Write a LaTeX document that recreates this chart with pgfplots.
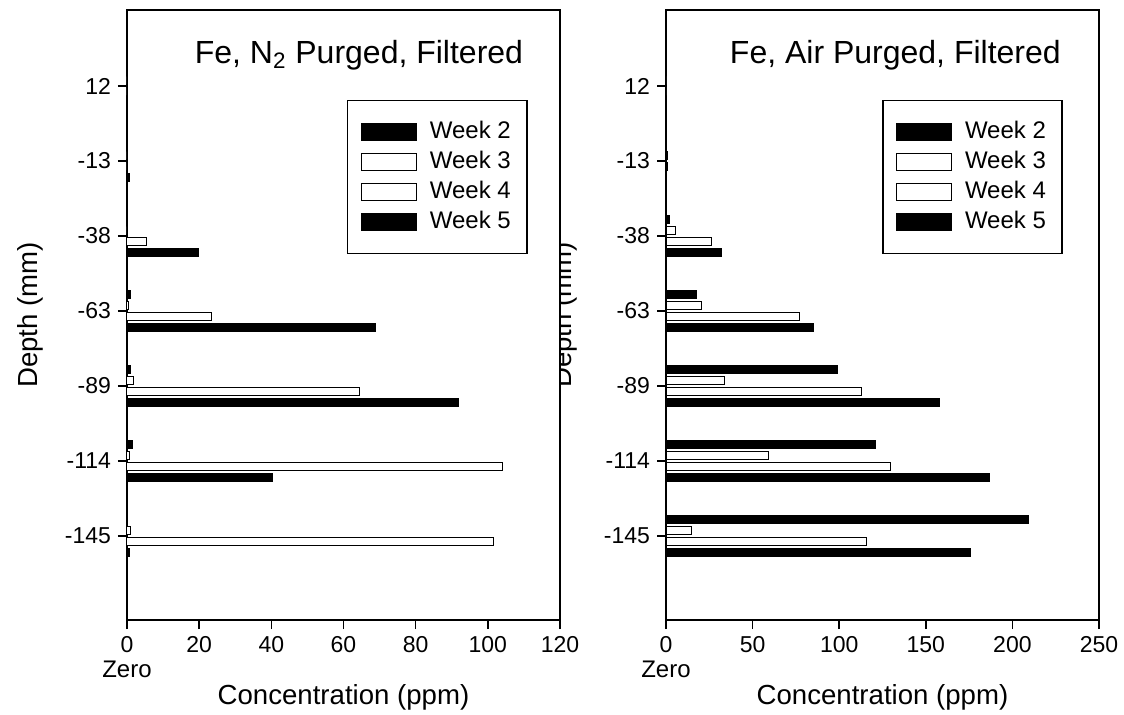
\documentclass[border=0pt]{standalone}
\usepackage{fontspec}
\setmainfont{Liberation Sans}
\usepackage{pgfplots}
\usepackage{pgfplotstable}
\pgfplotsset{compat=1.18}

% k = depth slot (0:12, 1:-13, 2:-38, 3:-63, 4:-89, 5:-114, 6:-145); values in ppm
\pgfplotstableread{
k w2 w3 w4 w5
0 0 0 0 0
1 0 0 0 0.7
2 0 0 5.3 19.8
3 1.0 0.3 23.5 69
4 1.1 1.7 64.5 91.8
5 1.5 0.8 104 40.3
6 0 1.1 101.7 0.6
}\leftdata

\pgfplotstableread{
k w2 w3 w4 w5
0 0 0 0 0
1 0 0.8 0.8 0.5
2 2.3 5.6 26.4 32
3 17.7 20.4 77 85
4 98.9 33.5 113 157.8
5 120.9 59.3 129.5 187
6 209.2 14.8 115.5 176
}\rightdata

\pgfplotsset{
  lg/.style={legend image code/.code={\draw[##1,line width=0.6pt] (0pt,-4.25pt) rectangle (27.5pt,4.25pt);}},
  blk/.style={draw=black, fill=black, line width=0.5pt, bar shift=0pt, lg},
  wht/.style={draw=black, fill=white, line width=0.5pt, bar shift=0pt, lg},
  panel/.style={
    scale only axis, width=216.5pt, height=305pt,
    xbar, bar width=0.1,
    y dir=reverse, ymin=-1.013, ymax=7.12,
    ytick={0,...,6}, yticklabels={12,-13,-38,-63,-89,-114,-145},
    xmin=0,
    tick align=outside, xtick pos=bottom, ytick pos=left,
    major tick length=4.5pt,
    tick style={black, line width=0.75pt},
    axis line style={line width=0.75pt},
    tick label style={font=\fontsize{11.5}{11.5}\selectfont},
    xticklabel style={align=center},
    /pgf/number format/assume math mode=true,
    every axis x label/.style={at={(axis description cs:0.5,0)}, anchor=center, yshift=-38.5pt, font=\fontsize{13.8}{15}\selectfont},
    every axis y label/.style={at={(axis description cs:-0.224,0.5)}, anchor=center, rotate=90, font=\fontsize{13.8}{15}\selectfont},
    xlabel={Concentration (ppm)}, ylabel={Depth (mm)},
    legend cell align=left,
    legend style={draw=black, line width=0.75pt, font=\fontsize{12}{15}\selectfont,
      inner xsep=6.5pt, inner ysep=8.25pt, column sep=5pt,
      nodes={inner sep=1.5pt, text height=9pt, text depth=3pt}},
    clip=false,
  }
}

\begin{document}
\begin{tikzpicture}
\useasboundingbox (0,0) rectangle (562pt,357.5pt);

% right panel (drawn first, its y label is partly covered by the left panel)
\begin{axis}[panel, at={(333pt,47.5pt)}, anchor=south west,
  xmax=250, xtick={0,50,...,250},
  xticklabels={{0\\[1pt]{\fontsize{12}{12}\selectfont Zero}},50,100,150,200,250},
  every axis y label/.style={at={(axis description cs:-0.234,0.5)}, anchor=center, rotate=90, font=\fontsize{13.8}{15}\selectfont},
  legend style={at={(rel axis cs:0.499,0.8525)}, anchor=north west}]
\addplot[blk] table[x=w2, y expr=\thisrow{k}-0.22] {\rightdata};
\addplot[wht] table[x=w3, y expr=\thisrow{k}-0.0733] {\rightdata};
\addplot[wht] table[x=w4, y expr=\thisrow{k}+0.0733] {\rightdata};
\addplot[blk] table[x=w5, y expr=\thisrow{k}+0.22] {\rightdata};
\legend{Week 2,Week 3,Week 4,Week 5}
\node[anchor=base east, font=\fontsize{16}{18}\selectfont] at (rel axis cs:0.928,0.913) {Fe, Air Purged, Filtered};
\end{axis}

% left panel
\begin{axis}[panel, at={(63.5pt,47.5pt)}, anchor=south west,
  axis background/.style={fill=white},
  xmax=120, xtick={0,20,...,120},
  xticklabels={{0\\[1pt]{\fontsize{12}{12}\selectfont Zero}},20,40,60,80,100,120},
  legend style={at={(rel axis cs:0.508,0.8525)}, anchor=north west}]
\addplot[blk] table[x=w2, y expr=\thisrow{k}-0.22] {\leftdata};
\addplot[wht] table[x=w3, y expr=\thisrow{k}-0.0733] {\leftdata};
\addplot[wht] table[x=w4, y expr=\thisrow{k}+0.0733] {\leftdata};
\addplot[blk] table[x=w5, y expr=\thisrow{k}+0.22] {\leftdata};
\legend{Week 2,Week 3,Week 4,Week 5}
\node[anchor=base east, font=\fontsize{16}{18}\selectfont] at (rel axis cs:0.931,0.913) {Fe, N\textsubscript{2} Purged, Filtered};
\end{axis}
\end{tikzpicture}
\end{document}
